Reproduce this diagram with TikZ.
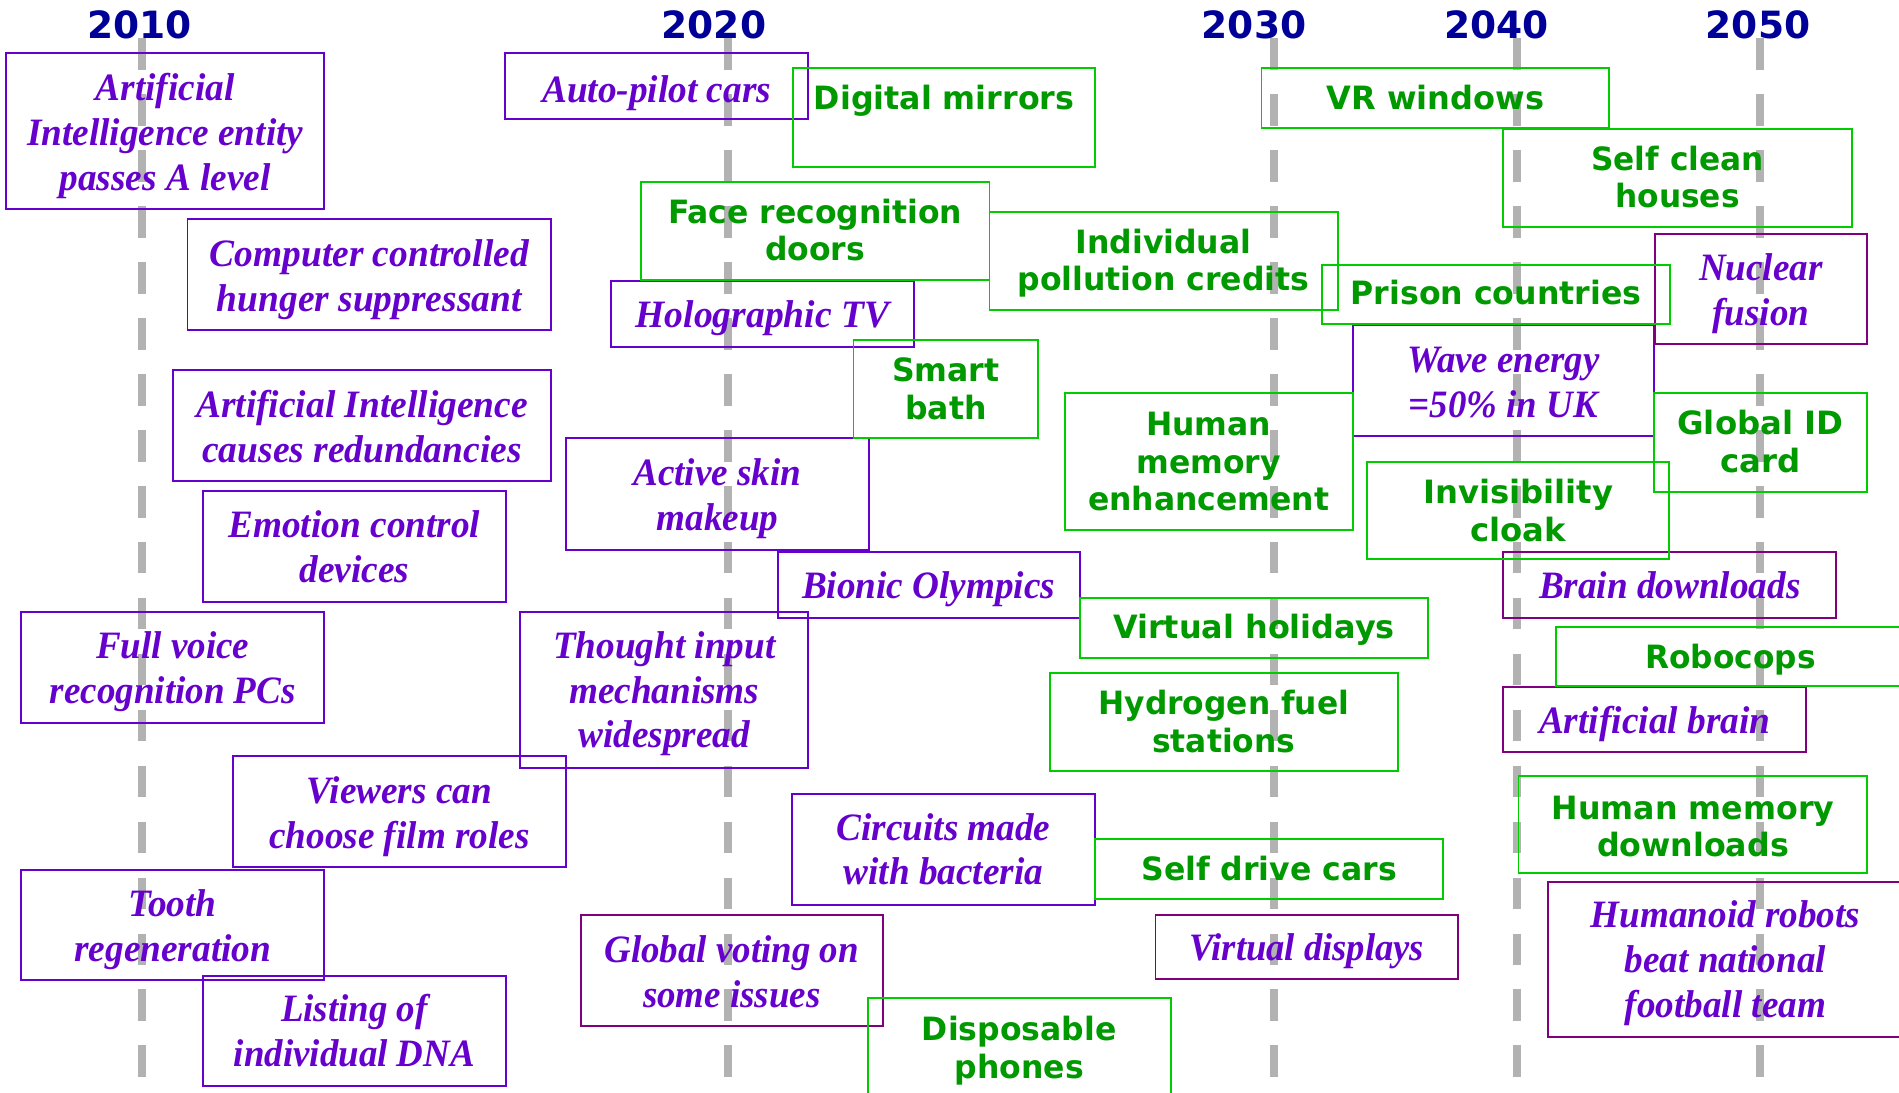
\documentclass[tikz,border=0pt]{standalone}
\usepackage{fontspec}
\usepackage{graphicx}
\newfontfamily\serifbi{Liberation Serif}
\newfontfamily\sansb{DejaVu Sans}
\definecolor{violetink}{HTML}{6600CC}
\definecolor{plumline}{HTML}{800080}
\definecolor{leafink}{HTML}{009900}
\definecolor{leafline}{HTML}{00CC00}
\definecolor{navyink}{HTML}{000099}
\definecolor{railgray}{HTML}{B2B2B2}

\tikzset{
  ptext/.style={text=violetink, inner sep=0pt, outer sep=0pt, yshift=-2.7pt,
    font=\serifbi\bfseries\itshape\fontsize{32}{37}\selectfont},
  pbox/.style={draw=violetink, line width=1.6pt, inner sep=0pt, outer sep=0pt},
  qbox/.style={draw=plumline, line width=1.6pt, inner sep=0pt, outer sep=0pt},
  gbox/.style={draw=leafline, line width=1.6pt, inner sep=0pt, outer sep=0pt},
  pbox text/.style={ptext},
  qbox text/.style={ptext},
  gbox text/.style={text=leafink, inner sep=0pt, outer sep=0pt, yshift=-2.7pt,
    font=\sansb\bfseries\fontsize{26.5}{31}\selectfont},
  year/.style={text=navyink, inner sep=0pt, font=\sansb\bfseries\fontsize{31}{37}\selectfont},
  rail/.style={draw=railgray, line width=6.6pt, dash pattern=on 26.1pt off 20.1pt}
}

% #1 box style, #2 name, #3 left, #4 top, #5 right, #6 bottom,
% #7 centre of the text block, #8 width of its widest line, #9 lines
\newcommand\ev[9]{%
  \node[#1, minimum width={(#5-#3)*1pt}, minimum height={(#6-#4)*1pt}]
    (#2) at ({(#3+#5)/2},{(#4+#6)/2}) {};
  \node[#1 text] (#2t) at ({(#3+#5)/2},#7)
    {\resizebox{#8pt}{\height}{\begin{tabular}{@{}c@{}}#9\end{tabular}}};%
}

\begin{document}
\begin{tikzpicture}[x=1pt, y=-1pt]
\useasboundingbox (0,0) rectangle (1568,902);

% decade markers
\node[year] (y2010) at (115.4,20.9) {2010};
\node[year] (y2020) at (589.5,20.9) {2020};
\node[year] (y2030) at (1035.5,20.9) {2030};
\node[year] (y2040) at (1235.8,20.9) {2040};
\node[year] (y2050) at (1451.6,20.9) {2050};

\foreach \x/\n in {116.9/a, 600.8/b, 1052/c, 1252.6/d, 1453.5/e}{
  \coordinate (top\n) at (\x,31.6);
  \coordinate (bot\n) at (\x,889.3);
  \draw[rail] (top\n) -- (bot\n);
}

% predictions in italic serif
\ev{pbox}{aient}{4.8}{43.5}{267.9}{172.3}{110}{228}{Artificial\\Intelligence entity\\passes A level}
\ev{pbox}{hunger}{154.8}{180.8}{455}{272.5}{228.5}{263.4}{Computer controlled\\hunger suppressant}
\ev{pbox}{redund}{142.5}{305.8}{455.3}{397.4}{353}{274}{Artificial Intelligence\\causes redundancies}
\ev{pbox}{emotion}{167.5}{405.6}{417.7}{497.2}{452.4}{208}{Emotion control\\devices}
\ev{pbox}{voice}{17.7}{505.4}{267.6}{597}{552}{203}{Full voice\\recognition PCs}
\ev{pbox}{viewers}{192.4}{624.4}{467.3}{715.6}{671.7}{215}{Viewers can\\choose film roles}
\ev{pbox}{tooth}{17.7}{718}{267.6}{809.5}{765}{162.7}{Tooth\\regeneration}
\ev{pbox}{dna}{167.5}{805.6}{417.7}{896.8}{852}{199}{Listing of\\individual DNA}
\ev{pbox}{autopilot}{417.3}{43.5}{667.1}{98.3}{74.3}{189}{Auto-pilot cars}
\ev{pbox}{holo}{504.6}{231.8}{754.4}{286.3}{260.1}{209.4}{Holographic TV}
\ev{pbox}{skin}{467.5}{362}{717.2}{454.2}{409.5}{138.8}{Active skin\\makeup}
\ev{pbox}{thought}{429.4}{505.6}{667.5}{634}{570.5}{183.6}{Thought input\\mechanisms\\widespread}
\ev{pbox}{bionic}{642}{455.5}{891.6}{510}{484.3}{209}{Bionic Olympics}
\ev{pbox}{circuits}{654}{655.3}{904}{747.3}{702}{176.6}{Circuits made\\with bacteria}
\ev{qbox}{voting}{479.4}{755.2}{729}{847.2}{803}{210}{Global voting on\\some issues}
\ev{qbox}{vdisplay}{954.1}{755.2}{1203.7}{808}{783}{194}{Virtual displays}
\ev{pbox}{wave}{1116.8}{268.3}{1365.8}{360}{315.8}{159}{Wave energy\\=50\% in UK}
\ev{qbox}{fusion}{1366.4}{193.2}{1541.3}{284.3}{240}{102}{Nuclear\\fusion}
\ev{qbox}{brain}{1241.2}{455.5}{1516.3}{510}{483.8}{216}{Brain downloads}
\ev{qbox}{abrain}{1241.2}{566.9}{1491.4}{621}{595.7}{191}{Artificial brain}
\ev{qbox}{humanoid}{1278.4}{728.5}{1571}{856.5}{793}{222.3}{Humanoid robots\\beat national\\football team}

% predictions in bold sans
\ev{gbox}{mirrors}{654.6}{56.1}{904.4}{137.6}{81.5}{215}{Digital mirrors}
\ev{gbox}{face}{529.2}{150}{817}{231.2}{191}{243}{Face recognition\\doors}
\ev{gbox}{credits}{817}{174.8}{1104.4}{256}{215.7}{241}{Individual\\pollution credits}
\ev{gbox}{bath}{704.7}{280.8}{857.3}{362}{321.8}{88.7}{Smart\\bath}
\ev{gbox}{enhance}{879.3}{324.8}{1116.8}{437.6}{382}{199}{Human\\memory\\enhancement}
\ev{gbox}{holidays}{891.6}{494}{1179.2}{543.2}{518.7}{232.6}{Virtual holidays}
\ev{gbox}{hydrogen}{866.6}{555.7}{1154.3}{636.6}{596.6}{207}{Hydrogen fuel\\stations}
\ev{gbox}{selfdrive}{904}{692.8}{1191.8}{742.3}{718.2}{211}{Self drive cars}
\ev{gbox}{phones}{716.5}{823.9}{966.6}{906}{866}{160.6}{Disposable\\phones}
\ev{gbox}{vrwin}{1041.6}{56.4}{1328.8}{105.4}{81.7}{179.7}{VR windows}
\ev{gbox}{houses}{1241.2}{106.2}{1529.1}{187.2}{147.3}{142.5}{Self clean\\houses}
\ev{gbox}{prison}{1091.3}{218.8}{1379.2}{267.5}{242.2}{240}{Prison countries}
\ev{gbox}{idcard}{1365.8}{324.8}{1541.4}{406}{365.6}{137.2}{Global ID\\card}
\ev{gbox}{cloak}{1128.8}{381.2}{1378.4}{461.6}{422.5}{157}{Invisibility\\cloak}
\ev{gbox}{robocops}{1284.8}{517.8}{1573}{566.3}{543.3}{140.4}{Robocops}
\ev{gbox}{memdown}{1253.8}{641.1}{1541.9}{721}{683}{233.4}{Human memory\\downloads}
\end{tikzpicture}
\end{document}
